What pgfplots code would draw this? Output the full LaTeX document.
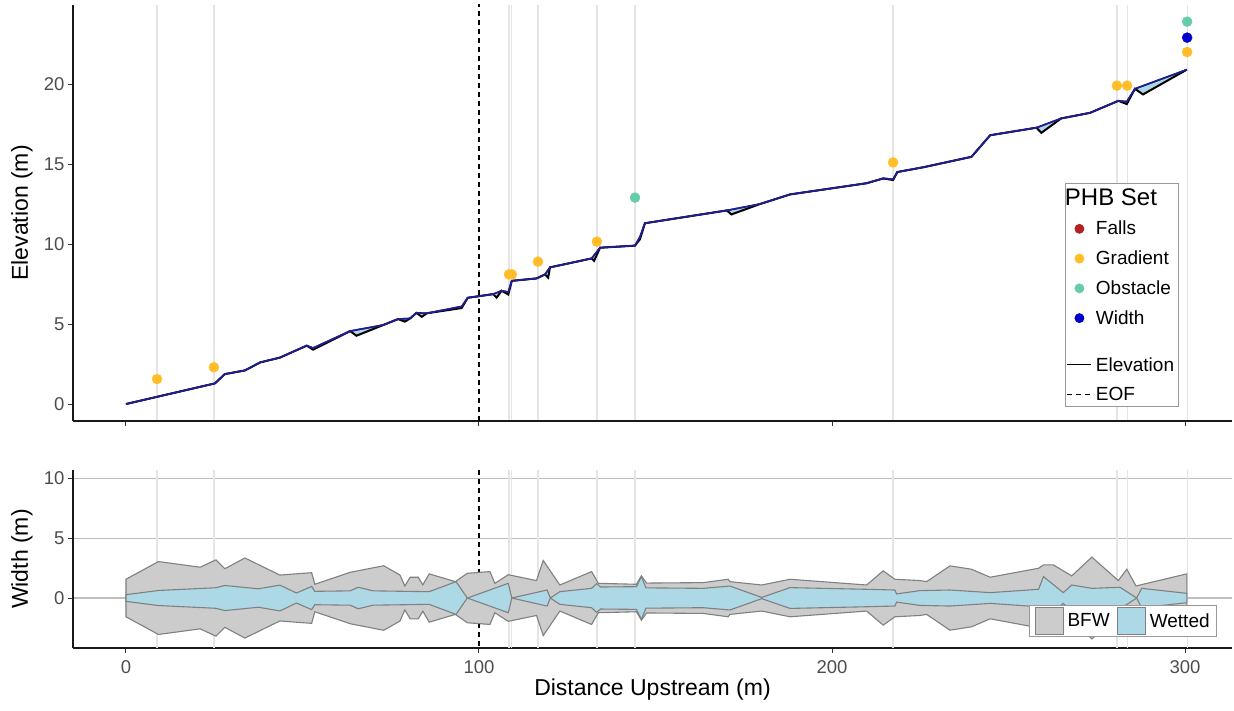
\documentclass[border=0pt]{standalone}
\usepackage{fontspec}
\setmainfont{Liberation Sans}
\usepackage{pgfplots}
\pgfplotsset{compat=1.18}
\usepgfplotslibrary{fillbetween}
\definecolor{falls}{RGB}{178,34,34}
\definecolor{gradient}{RGB}{255,190,40}
\definecolor{obstacle}{RGB}{102,205,170}
\definecolor{widthc}{RGB}{0,0,205}
\definecolor{elevblue}{RGB}{30,30,140}
\definecolor{fillblue}{RGB}{173,216,230}
\definecolor{bfwgray}{RGB}{204,204,204}
\definecolor{edgegray}{RGB}{128,128,128}
\definecolor{phbgrid}{RGB}{229,229,229}
\definecolor{hgrid}{RGB}{190,190,190}
\definecolor{ticktext}{RGB}{77,77,77}
\pgfplotsset{
  base/.style={scale only axis, width=1159pt, xmin=-15, xmax=313.3,
    axis lines*=left, axis line style={-, line width=1.3pt, black!90},
    tick align=outside, major tick length=5pt, tick style={line width=1pt, black!80},
    /pgf/number format/assume math mode=true,
    ticklabel style={font=\fontsize{18.5}{20}\selectfont, text=ticktext},
    xticklabel style={yshift=-4pt},
    label style={font=\fontsize{23}{26}\selectfont},
    xtick={0,100,200,300},
    extra x ticks={8.8,24.9,108.5,109.3,116.7,133.4,144.2,217.3,280.7,283.6,300.6},
    extra x tick labels={},
    extra x tick style={grid=major, major tick length=0pt, major grid style={phbgrid, line width=1.3pt}},
    ylabel style={at={(axis description cs:-0.044,0.5)}, anchor=center},
    legend cell align=left},
  mleg/.style={legend image code/.code={\path (0pt,0pt) (24pt,0pt); \draw[mark repeat=2,mark phase=2,##1] plot coordinates {(0pt,0pt)(12pt,0pt)(24pt,0pt)};}},
  lleg/.style={legend image code/.code={\draw[##1] (0pt,0pt) -- (24pt,0pt);}},
}
\begin{document}
\begin{tikzpicture}
% ---------- top panel ----------
\begin{axis}[base, at={(73pt,290pt)}, anchor=south west, height=416pt,
  ymin=-1.06, ymax=24.94, ytick={0,5,10,15,20}, xticklabels={},
  ylabel={Elevation (m)},
  legend style={at={(axis description cs:0.8555,0.572)}, anchor=north west,
    draw=black!40, line width=0.8pt, font=\fontsize{19}{22}\selectfont,
    row sep=10.5pt, inner xsep=2pt, inner ysep=3pt,
    /tikz/every odd column/.append style={column sep=2pt}}]
\addplot[black, dash pattern=on 5pt off 4pt, line width=1.2pt, forget plot] coordinates {(100,-5) (100,30)};
\addplot[black, line width=2pt, name path=elevb, forget plot] coordinates {
(0,0)(25.2,1.29)(28,1.87)(33.7,2.1)(38,2.6)(43.6,2.9)(51.2,3.65)(53,3.4)(63.5,4.56)(65.3,4.27)
(72.9,4.94)(77.1,5.31)(79,5.15)(80.5,5.35)(82.3,5.7)(83.8,5.45)(85.2,5.67)(95.1,6.0)(96.8,6.64)
(100.3,6.75)(104,6.87)(105,6.65)(106.4,7.08)(108.3,6.85)(109.3,7.7)(116.3,7.85)(118.7,8.1)(119.6,7.9)
(120.1,8.54)(131.9,9.1)(132.6,8.95)(134.3,9.77)(144.2,9.9)(145.6,10.3)(147,11.3)(170.2,12.1)(171.5,11.85)
(179.6,12.5)(188.1,13.1)(209.8,13.8)(214.5,14.1)(217.3,14.0)(218.5,14.5)(225.9,14.8)(239.5,15.45)
(244.8,16.8)(257.9,17.27)(259.3,16.95)(264.9,17.85)(273.1,18.2)(281.1,18.95)(283.5,18.75)(285.8,19.7)
(288.1,19.35)(300.5,20.9)};
\addplot[elevblue, line width=1.6pt, name path=elevs, forget plot] coordinates {
(0,0)(25.2,1.29)(28,1.87)(33.7,2.1)(38,2.6)(43.6,2.9)(51.2,3.65)(53,3.5)(63.5,4.56)(72.9,4.94)
(77.1,5.31)(80.5,5.35)(82.3,5.7)(85.2,5.67)(95.1,6.1)(96.8,6.64)(100.3,6.75)(104,6.87)(106.4,7.08)
(108.3,7.0)(109.3,7.7)(116.3,7.85)(118.7,8.1)(120.1,8.54)(131.9,9.1)(134.3,9.77)(144.2,9.9)(145.6,10.45)
(147,11.3)(170.2,12.1)(179.6,12.5)(188.1,13.1)(209.8,13.8)(214.5,14.1)(217.3,14.05)(218.5,14.5)
(225.9,14.8)(239.5,15.45)(244.8,16.8)(257.9,17.27)(264.9,17.85)(273.1,18.2)(281.1,18.95)(283.5,18.9)
(285.8,19.7)(300.5,20.9)};
\addplot[fillblue, forget plot] fill between[of=elevb and elevs];
\addplot[elevblue, line width=1.6pt, forget plot] coordinates {
(0,0)(25.2,1.29)(28,1.87)(33.7,2.1)(38,2.6)(43.6,2.9)(51.2,3.65)(53,3.5)(63.5,4.56)(72.9,4.94)
(77.1,5.31)(80.5,5.35)(82.3,5.7)(85.2,5.67)(95.1,6.1)(96.8,6.64)(100.3,6.75)(104,6.87)(106.4,7.08)
(108.3,7.0)(109.3,7.7)(116.3,7.85)(118.7,8.1)(120.1,8.54)(131.9,9.1)(134.3,9.77)(144.2,9.9)(145.6,10.45)
(147,11.3)(170.2,12.1)(179.6,12.5)(188.1,13.1)(209.8,13.8)(214.5,14.1)(217.3,14.05)(218.5,14.5)
(225.9,14.8)(239.5,15.45)(244.8,16.8)(257.9,17.27)(264.9,17.85)(273.1,18.2)(281.1,18.95)(283.5,18.9)
(285.8,19.7)(300.5,20.9)};
\addplot[only marks, mark=*, mark size=5pt, gradient, draw=none, forget plot] coordinates {
(8.8,1.56)(24.9,2.3)(108.5,8.1)(109.3,8.1)(116.7,8.9)(133.4,10.15)(217.3,15.1)(280.7,19.9)(283.6,19.9)(300.6,22.0)};
\addplot[only marks, mark=*, mark size=5pt, obstacle, draw=none, forget plot] coordinates {(144.2,12.9)(300.6,23.9)};
\addplot[only marks, mark=*, mark size=5pt, widthc, draw=none, forget plot] coordinates {(300.6,22.9)};
% legend
\addlegendimage{legend image code/.code={\path (0pt,0pt) (24pt,0pt);}}
\addlegendentry{\hspace*{-31pt}\fontsize{24}{26}\selectfont PHB Set}
\addlegendimage{mleg, only marks, mark=*, mark size=4.5pt, falls, draw=none}
\addlegendentry{Falls}
\addlegendimage{mleg, only marks, mark=*, mark size=4.5pt, gradient, draw=none}
\addlegendentry{Gradient}
\addlegendimage{mleg, only marks, mark=*, mark size=4.5pt, obstacle, draw=none}
\addlegendentry{Obstacle}
\addlegendimage{mleg, only marks, mark=*, mark size=4.5pt, widthc, draw=none}
\addlegendentry{Width}
\addlegendimage{legend image code/.code={\path (0pt,0pt) (24pt,0pt);}}
\addlegendentry{\rule{0pt}{1pt}}
\addlegendimage{lleg, black, line width=1pt}
\addlegendentry{Elevation}
\addlegendimage{lleg, black, line width=1pt, dash pattern=on 5pt off 4pt}
\addlegendentry{EOF}
\end{axis}
% ---------- bottom panel ----------
\begin{axis}[base, at={(73pt,63pt)}, anchor=south west, height=178pt,
  ymin=-4.18, ymax=10.71, ytick={0,5,10}, ymajorgrids,
  major grid style={hgrid, line width=1.3pt},
  xlabel={Distance Upstream (m)}, ylabel={Width (m)},
  xlabel style={at={(axis description cs:0.5,-0.236)}, anchor=center},
  legend columns=2,
  legend style={at={(axis description cs:0.825,0.2416)}, anchor=north west,
    draw=black!40, line width=0.8pt, font=\fontsize{19}{22}\selectfont,
    inner xsep=5pt, inner ysep=1.5pt,
    /tikz/every odd column/.append style={column sep=2pt},
    /tikz/every even column/.append style={column sep=5pt}}]
\addplot[black, dash pattern=on 5pt off 4pt, line width=1.2pt, forget plot] coordinates {(100,-10) (100,20)};
\addplot[fill=bfwgray, draw=edgegray, line width=1.1pt, forget plot] coordinates {
(0,1.57)(9.2,3.05)(21,2.58)(25.5,3.19)(28,2.45)(33.7,3.35)(43.6,1.92)(52.6,2.12)(53.5,1.15)(63.5,2.15)
(73,2.7)(77.6,1.93)(79,1.0)(80.5,1.74)(82.8,1.74)(84.1,1.1)(85.9,2.02)(93.3,1.37)(96.7,2.07)(103.1,2.21)
(104.5,1.23)(108.3,1.95)(116.3,1.46)(118.2,3.14)(122.9,1.09)(131.9,2.21)(133.8,1.23)(144.6,1.15)(146,1.85)
(147.5,1.25)(163.5,1.29)(170.6,1.57)(171.1,1.37)(180.1,1.09)(188.1,1.57)(209.8,1.09)(214.5,2.27)(217.8,1.57)
(224.9,1.46)(226.8,1.37)(233.4,2.69)(239.5,2.41)(244.8,1.74)(258.5,2.49)(259.9,2.77)(262.7,2.77)(267.9,1.85)
(273.6,3.42)(281.1,1.46)(283.5,2.41)(286.1,1.01)(300.5,2.02)
(300.5,-2.02)(286.1,-1.01)(283.5,-2.41)(281.1,-1.46)(273.6,-3.42)(267.9,-1.85)(262.7,-2.77)(259.9,-2.77)
(258.5,-2.49)(244.8,-1.74)(239.5,-2.41)(233.4,-2.69)(226.8,-1.37)(224.9,-1.46)(217.8,-1.57)(214.5,-2.27)
(209.8,-1.09)(188.1,-1.57)(180.1,-1.09)(171.1,-1.37)(170.6,-1.57)(163.5,-1.29)(147.5,-1.25)(146,-1.85)
(144.6,-1.15)(133.8,-1.23)(131.9,-2.21)(122.9,-1.09)(118.2,-3.14)(116.3,-1.46)(108.3,-1.95)(104.5,-1.23)
(103.1,-2.21)(96.7,-2.07)(93.3,-1.37)(85.9,-2.02)(84.1,-1.1)(82.8,-1.74)(80.5,-1.74)(79,-1.0)(77.6,-1.93)
(73,-2.7)(63.5,-2.15)(53.5,-1.15)(52.6,-2.12)(43.6,-1.92)(33.7,-3.35)(28,-2.45)(25.5,-3.19)(21,-2.58)
(9.2,-3.05)(0,-1.57)} -- cycle;
\addplot[fill=fillblue, draw=edgegray, line width=1.1pt, forget plot] coordinates {
(0,0.28)(9.2,0.63)(25.5,0.86)(28,1.05)(37.5,0.77)(43.6,1.08)(48.3,0.42)(52.6,0.97)(53.5,0.56)(63.5,0.6)
(65.8,0.9)(70,0.6)(85.9,0.53)(93.5,1.37)(96.7,0)(108.3,1.23)(109.3,0)(119.3,0.67)(120.2,0)(122.9,0.53)
(131.9,0.81)(133.3,1.2)(134.5,0.92)(144.6,0.95)(146,1.79)(147.3,0.85)(163.5,0.81)(171.1,1.0)(180.1,0.05)
(188.1,0.87)(209.8,0.73)(217.8,0.67)(218.3,0.34)(224.9,0.62)(233.4,0.67)(244.8,0.45)(258.5,0.73)(259.9,1.79)
(265.5,0.45)(267.9,1.09)(273.6,0.81)(281.6,0.9)(286.3,0)(287.7,0.81)(300.5,0.39)
(300.5,-0.39)(287.7,-0.81)(286.3,0)(281.6,-0.9)(273.6,-0.81)(267.9,-1.09)(265.5,-0.45)(259.9,-1.79)
(258.5,-0.73)(244.8,-0.45)(233.4,-0.67)(224.9,-0.62)(218.3,-0.34)(217.8,-0.67)(209.8,-0.73)(188.1,-0.87)
(180.1,-0.05)(171.1,-1.0)(163.5,-0.81)(147.3,-0.85)(146,-1.79)(144.6,-0.95)(134.5,-0.92)(133.3,-1.2)
(131.9,-0.81)(122.9,-0.53)(120.2,0)(119.3,-0.67)(109.3,0)(108.3,-1.23)(96.7,0)(93.5,-1.37)(85.9,-0.53)
(70,-0.6)(65.8,-0.9)(63.5,-0.6)(53.5,-0.56)(52.6,-0.97)(48.3,-0.42)(43.6,-1.08)(37.5,-0.77)(28,-1.05)
(25.5,-0.86)(9.2,-0.63)(0,-0.28)} -- cycle;
\addlegendimage{legend image code/.code={\draw[fill=bfwgray, draw=edgegray, line width=1pt] (0pt,-13.5pt) rectangle (28pt,13.5pt);}}
\addlegendentry{BFW}
\addlegendimage{legend image code/.code={\draw[fill=fillblue, draw=edgegray, line width=1pt] (0pt,-13.5pt) rectangle (28pt,13.5pt);}}
\addlegendentry{Wetted}
\end{axis}
\pgfresetboundingbox
\useasboundingbox (0,0) rectangle (1234pt,711pt);
\end{tikzpicture}
\end{document}
